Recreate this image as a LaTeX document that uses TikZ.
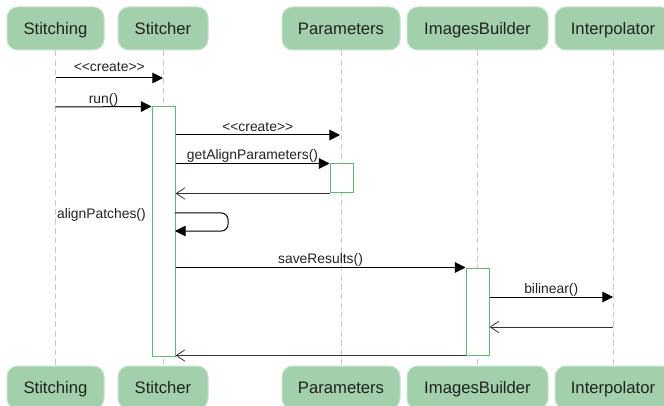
\documentclass[tikz,border=0pt]{standalone}
\usepackage{fontspec}
\setmainfont{Liberation Sans}[Ligatures=TeXOff]
\usetikzlibrary{arrows.meta}
\definecolor{headfill}{RGB}{161,208,171}
\definecolor{headdraw}{RGB}{196,228,203}
\definecolor{actgreen}{RGB}{96,186,110}
\definecolor{lifegray}{RGB}{200,200,200}
\definecolor{txtdark}{RGB}{34,34,34}
\tikzset{
  head/.style={draw=headdraw, fill=headfill, line width=0.75pt, rounded corners=8pt,
    minimum height=43*0.75pt, inner sep=0pt, text=txtdark, text height=8.8pt, text depth=0pt,
    font=\fontsize{12.5}{14}\selectfont},
  life/.style={draw=lifegray, line width=0.75pt, dash pattern=on 4.5pt off 2.5pt},
  act/.style={draw=actgreen, fill=white, line width=0.75pt, minimum width=23*0.75pt, inner sep=0pt},
  msg/.style={draw=black, line width=0.75pt, -{Triangle[length=8pt,width=8pt]}},
  ret/.style={draw=black!80, line width=0.6pt, -{Straight Barb[length=6.5pt,width=8.5pt]}},
  lbl/.style={text=txtdark, font=\fontsize{10.4}{12}\selectfont, inner sep=0pt,
    text height=7.5pt, text depth=2pt},
  lblup/.style={lbl, above=0.4pt}
}
\begin{document}
\begin{tikzpicture}[x=0.75pt,y=-0.75pt]
\useasboundingbox (0,0) rectangle (664,406);
% heads
\node[head, minimum width=97*0.75pt]  (hSt)  at (55.5,28.5) {Stitching};
\node[head, minimum width=90*0.75pt]  (hSr)  at (163,28.5) {Stitcher};
\node[head, minimum width=118*0.75pt] (hPa)  at (341,28.5) {Parameters};
\node[head, minimum width=141*0.75pt] (hIB)  at (477.5,28.5) {ImagesBuilder};
\node[head, minimum width=116*0.75pt] (hIn)  at (613,28.5) {Interpolator};
% feet
\node[head, minimum width=97*0.75pt]  (fSt)  at (55.5,387.5) {Stitching};
\node[head, minimum width=90*0.75pt]  (fSr)  at (163,387.5) {Stitcher};
\node[head, minimum width=118*0.75pt] (fPa)  at (341,387.5) {Parameters};
\node[head, minimum width=141*0.75pt] (fIB)  at (477.5,387.5) {ImagesBuilder};
\node[head, minimum width=116*0.75pt] (fIn)  at (613,387.5) {Interpolator};
% lifelines
\draw[life] (hSt.south) -- (fSt.north);
\draw[life] (hSr.south) -- (fSr.north);
\draw[life] (hPa.south) -- (fPa.north);
\draw[life] (hIB.south) -- (fIB.north);
\draw[life] (hIn.south) -- (fIn.north);
% activations
\node[act, minimum height=249*0.75pt] (aSr) at (163.5,231.5) {};
\node[act, minimum height=29*0.75pt]  (aPa) at (341.5,178.5) {};
\node[act, minimum height=87*0.75pt]  (aIB) at (477.5,311.5) {};
% message endpoints on lifelines
\coordinate (c1a) at (55.5,78);
\coordinate (c1b) at (163,78);
\coordinate (c2a) at (55.5,107);
\coordinate (c3b) at (340,135);
\coordinate (c8b) at (613,297);
\coordinate (c9a) at (613,327);
% messages
\draw[msg] (c1a) -- node[lbl, above=2.5pt] (l1) {<\kern0pt<create>\kern0pt>} (c1b);
\draw[msg] (c2a) -- node[lblup] (l2) {run()} (aSr.north west);
\draw[msg] (aSr.east |- c3b) -- node[lblup] (l3) {<\kern0pt<create>\kern0pt>} (c3b);
\draw[msg] (aSr.east |- aPa.north) -- node[lblup] (l4) {getAlignParameters()} (aPa.north west);
\draw[ret] (aPa.south west) -- (aSr.east |- aPa.south);
\coordinate (s1) at (175,213);
\coordinate (s2) at (228,213);
\coordinate (s3) at (228,231);
\coordinate (s4) at (175,231);
\draw[msg, rounded corners=5pt] (s1) -- (s2) -- (s3) -- (s4);
\node[lbl, anchor=east] (l6) at (146,215) {alignPatches()};
\draw[msg] (aSr.east |- aIB.north) -- node[lblup] (l7) {saveResults()} (aIB.north west);
\draw[msg] (aIB.east |- c8b) -- node[lblup] (l8) {bilinear()} (c8b);
\draw[ret] (c9a) -- (aIB.east |- c9a);
\draw[ret] (aIB.south west) -- (aSr.east |- aIB.south);
\end{tikzpicture}
\end{document}
